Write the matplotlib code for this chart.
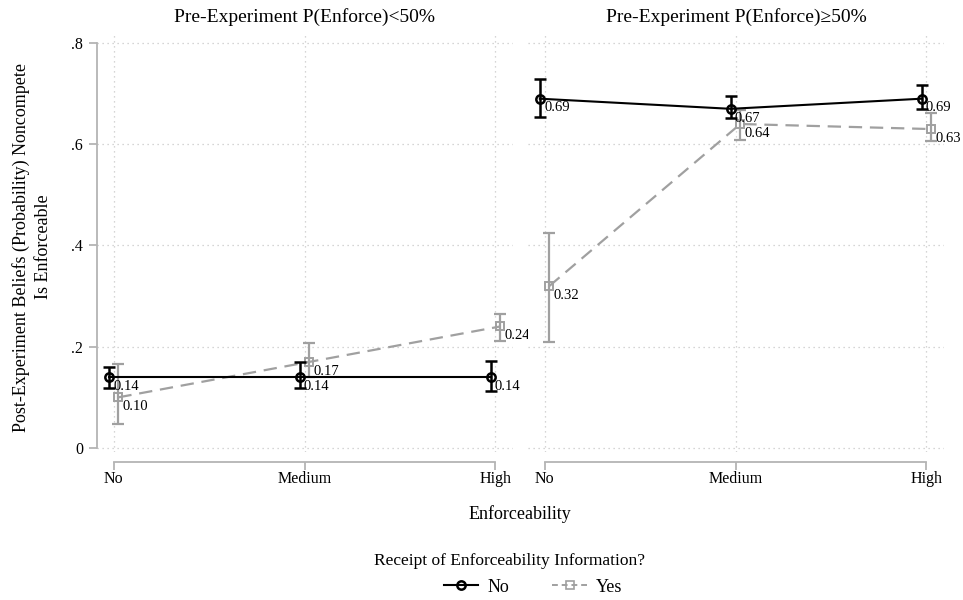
import matplotlib
matplotlib.use("Agg")
import matplotlib.pyplot as plt
from matplotlib.lines import Line2D

plt.rcParams['font.family'] = ['Liberation Serif', 'DejaVu Serif']

categories = ["No", "Medium", "High"]
panel_titles = ["Pre-Experiment P(Enforce)<50%", "Pre-Experiment P(Enforce)\u226550%"]
y_ticks = [0.0, 0.2, 0.4, 0.6, 0.8]
y_ticklabels = ["0", ".2", ".4", ".6", ".8"]

# Means and 95% CI bounds: panel -> series
no_mean = [[0.14, 0.14, 0.14], [0.69, 0.67, 0.69]]
no_lo = [[0.119, 0.119, 0.113], [0.654, 0.652, 0.670]]
no_hi = [[0.160, 0.170, 0.172], [0.729, 0.696, 0.717]]

yes_mean = [[0.10, 0.17, 0.24], [0.32, 0.64, 0.63]]
yes_lo = [[0.047, 0.140, 0.211], [0.209, 0.609, 0.607]]
yes_hi = [[0.166, 0.207, 0.265], [0.425, 0.668, 0.662]]

BLACK = "#000000"
GREY = "#a0a0a0"
AXIS_GREY = "#b4b4b4"
GRID_GREY = "#c8c8c8"

W, H = 963, 600
fig = plt.figure(figsize=(W / 100, H / 100), dpi=100)


def px_axes(x0, y0, x1, y1):
    return fig.add_axes([x0 / W, 1 - y1 / H, (x1 - x0) / W, (y1 - y0) / H])


axes = [px_axes(97, 33, 513, 452), px_axes(528, 33, 944, 452)]
xpos = list(range(len(categories)))
offset = 0.025

for i, ax in enumerate(axes):
    ax.set_xlim(-0.087, 2.092)
    ax.set_ylim(-0.008, 0.8198)
    for s in ax.spines.values():
        s.set_visible(False)

    # dotted grid
    for yv in y_ticks:
        ax.axhline(yv, color=GRID_GREY, ls=(0, (1, 3)), lw=0.9, zorder=0)
    for xv in xpos:
        ax.axvline(xv, color=GRID_GREY, ls=(0, (1, 3)), lw=0.9, zorder=0)

    # No information series
    xn = [x - offset for x in xpos]
    ax.errorbar(xn, no_mean[i],
                yerr=[[m - l for m, l in zip(no_mean[i], no_lo[i])],
                      [h - m for m, h in zip(no_mean[i], no_hi[i])]],
                fmt='none', ecolor=BLACK, elinewidth=1.8, capsize=4, capthick=1.8, zorder=3)
    ax.plot(xn, no_mean[i], color=BLACK, lw=1.5, marker='o', ms=6, mfc='none',
            mec=BLACK, mew=1.8, zorder=4)

    # Yes information series
    xy = [x + offset for x in xpos]
    ax.errorbar(xy, yes_mean[i],
                yerr=[[m - l for m, l in zip(yes_mean[i], yes_lo[i])],
                      [h - m for m, h in zip(yes_mean[i], yes_hi[i])]],
                fmt='none', ecolor=GREY, elinewidth=1.6, capsize=4, capthick=1.6, zorder=2)
    ax.plot(xy, yes_mean[i], color=GREY, lw=1.6, ls=(0, (6, 3.5)), marker='s', ms=5.5,
            mfc='none', mec=GREY, mew=1.4, zorder=2.5)

    for x, v in zip(xn, no_mean[i]):
        ax.annotate(f"{v:.2f}", (x, v), xytext=(3, -2), textcoords='offset points',
                    ha='left', va='top', fontsize=10.5, color=BLACK, zorder=5)
    for x, v in zip(xy, yes_mean[i]):
        ax.annotate(f"{v:.2f}", (x, v), xytext=(3, -2), textcoords='offset points',
                    ha='left', va='top', fontsize=10.5, color=BLACK, zorder=5)

    # x axis
    ax.spines['bottom'].set_visible(True)
    ax.spines['bottom'].set_position(('outward', 7))
    ax.spines['bottom'].set_bounds(0, 2)
    ax.spines['bottom'].set_color(AXIS_GREY)
    ax.spines['bottom'].set_linewidth(1.3)
    ax.set_xticks(xpos)
    ax.set_xticklabels(categories, fontsize=11.5)
    ax.tick_params(axis='x', direction='out', length=6, width=1.3, color=AXIS_GREY, pad=1)

    ax.set_title(panel_titles[i], fontsize=14, pad=8)

    if i == 0:
        ax.spines['left'].set_visible(True)
        ax.spines['left'].set_bounds(0, 0.8)
        ax.spines['left'].set_color(AXIS_GREY)
        ax.spines['left'].set_linewidth(1.3)
        ax.set_yticks(y_ticks)
        ax.set_yticklabels(y_ticklabels, fontsize=11.5)
        ax.tick_params(axis='y', direction='out', length=6, width=1.3, color=AXIS_GREY, pad=4)
    else:
        ax.set_yticks([])

fig.text(520 / W, 1 - 514 / H, "Enforceability", ha='center', va='center', fontsize=13)
fig.text(32 / W, 1 - 247 / H,
         "Post-Experiment Beliefs (Probability) Noncompete\nIs Enforceable",
         ha='center', va='center', rotation=90, fontsize=13, linespacing=1.45)

# legend title and entries
fig.text(510 / W, 1 - 561 / H, "Receipt of Enforceability Information?",
         ha='center', va='center', fontsize=12.5)
handles = [
    Line2D([], [], color=BLACK, lw=1.5, marker='o', ms=6, mfc='none', mec=BLACK, mew=1.8),
    Line2D([], [], color=GREY, lw=1.4, ls=(0, (3, 2)), marker='s', ms=5.5, mfc='none', mec=GREY, mew=1.2),
]
leg = fig.legend(handles, ["No", "Yes"], ncol=2, loc='center', bbox_to_anchor=(533 / W, 1 - 587 / H),
                 frameon=False, fontsize=13, handlelength=1.9, columnspacing=2.4,
                 handletextpad=0.5, borderpad=0.1)

fig.savefig("out.png", dpi=100)
